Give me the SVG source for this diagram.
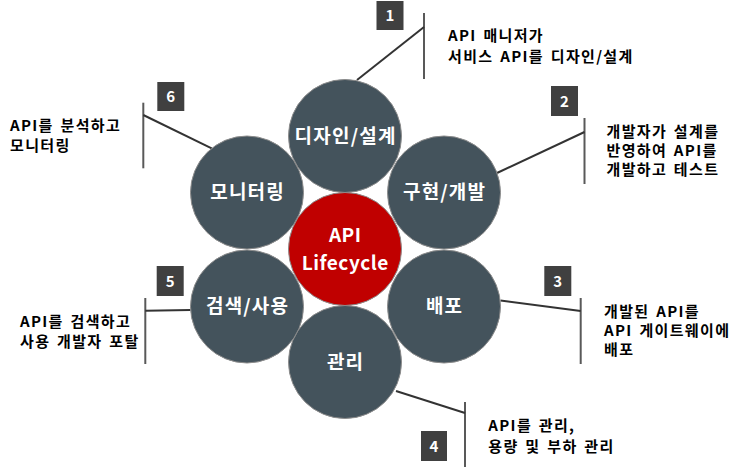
<svg xmlns="http://www.w3.org/2000/svg" width="752" height="473" viewBox="0 0 752 473">
<style>
.c{fill:#44535c;stroke:#8c8c8c;stroke-width:1}
.r{fill:#c00000;stroke:#8c8c8c;stroke-width:1}
.lbl{font-family:"Noto Sans CJK KR","Malgun Gothic",sans-serif;font-weight:bold;font-size:19px;letter-spacing:1.2px;fill:#ffffff;text-anchor:middle}
.ctr{font-family:"Noto Sans CJK KR","Malgun Gothic",sans-serif;font-weight:bold;font-size:19px;letter-spacing:0.5px;fill:#ffffff;text-anchor:middle}
.box{fill:#404040}
.num{font-family:"Noto Sans CJK KR",sans-serif;font-weight:bold;font-size:15px;fill:#ffffff;text-anchor:middle}
.desc{font-family:"Noto Sans CJK KR","Malgun Gothic",sans-serif;font-weight:bold;font-size:15px;letter-spacing:1.35px;word-spacing:2px;fill:#000000}
.v{stroke:#595959;stroke-width:2;fill:none}
.d{stroke:#333333;stroke-width:2;fill:none}
</style>
<rect width="752" height="473" fill="#ffffff"/>
<g id="connectors">
<line class="v" x1="424" y1="13" x2="424" y2="79"/>
<line class="d" x1="424" y1="27" x2="357" y2="80"/>
<line class="v" x1="584.5" y1="118" x2="584.5" y2="184"/>
<line class="d" x1="584.5" y1="132" x2="497" y2="173"/>
<line class="v" x1="580.7" y1="298" x2="580.7" y2="364"/>
<line class="d" x1="580.7" y1="311" x2="500.5" y2="300.5"/>
<line class="v" x1="465" y1="402" x2="465" y2="467"/>
<line class="d" x1="465" y1="413" x2="396" y2="391"/>
<line class="v" x1="145.3" y1="298" x2="145.3" y2="364"/>
<line class="d" x1="145.3" y1="310.7" x2="190.5" y2="310"/>
<line class="v" x1="143.3" y1="102.7" x2="143.3" y2="168.3"/>
<line class="d" x1="143.3" y1="115" x2="211.7" y2="148.3"/>
</g>
<g id="node-design"><circle class="c" cx="345" cy="136" r="56.5"/><text class="lbl" x="345.6" y="142.5">디자인/설계</text></g>
<g id="node-dev"><circle class="c" cx="444" cy="192.5" r="56.5"/><text class="lbl" x="444.6" y="199">구현/개발</text></g>
<g id="node-deploy"><circle class="c" cx="444" cy="306.5" r="56.5"/><text class="lbl" x="444.6" y="313">배포</text></g>
<g id="node-manage"><circle class="c" cx="345" cy="362" r="56.5"/><text class="lbl" x="345.6" y="368.5">관리</text></g>
<g id="node-search"><circle class="c" cx="247" cy="306.5" r="56.5"/><text class="lbl" x="247.6" y="313">검색/사용</text></g>
<g id="node-monitor"><circle class="c" cx="247" cy="192.5" r="56.5"/><text class="lbl" x="247.6" y="199">모니터링</text></g>
<g id="node-center"><circle class="r" cx="345" cy="249" r="56.5"/><text class="ctr" x="345.2" y="242">API</text><text class="ctr" x="345.2" y="269.5">Lifecycle</text></g>
<g id="step-1"><rect class="box" x="376.5" y="1" width="27" height="29"/><text class="num" x="390" y="21">1</text>
<text class="desc" x="448" y="41">API 매니저가</text><text class="desc" x="448" y="62">서비스 API를 디자인/설계</text></g>
<g id="step-2"><rect class="box" x="551" y="86" width="27" height="30"/><text class="num" x="564.5" y="106.5">2</text>
<text class="desc" x="606.5" y="136.5">개발자가 설계를</text><text class="desc" x="606.5" y="155.5">반영하여 API를</text><text class="desc" x="606.5" y="174.5">개발하고 테스트</text></g>
<g id="step-3"><rect class="box" x="544.3" y="266" width="27" height="30"/><text class="num" x="557.8" y="286.5">3</text>
<text class="desc" x="604" y="317">개발된 API를</text><text class="desc" x="604" y="336">API 게이트웨이에</text><text class="desc" x="604" y="355">배포</text></g>
<g id="step-4"><rect class="box" x="421" y="431" width="26" height="30"/><text class="num" x="434" y="451.5">4</text>
<text class="desc" x="488.3" y="431">API를 관리,</text><text class="desc" x="488.3" y="452">용량 및 부하 관리</text></g>
<g id="step-5"><rect class="box" x="156.7" y="266" width="27" height="30"/><text class="num" x="170.2" y="286.5">5</text>
<text class="desc" x="20" y="327">API를 검색하고</text><text class="desc" x="20" y="346.5">사용 개발자 포탈</text></g>
<g id="step-6"><rect class="box" x="157.3" y="82" width="27" height="29"/><text class="num" x="170.8" y="102">6</text>
<text class="desc" x="10" y="131">API를 분석하고</text><text class="desc" x="10" y="150.5">모니터링</text></g>
</svg>
